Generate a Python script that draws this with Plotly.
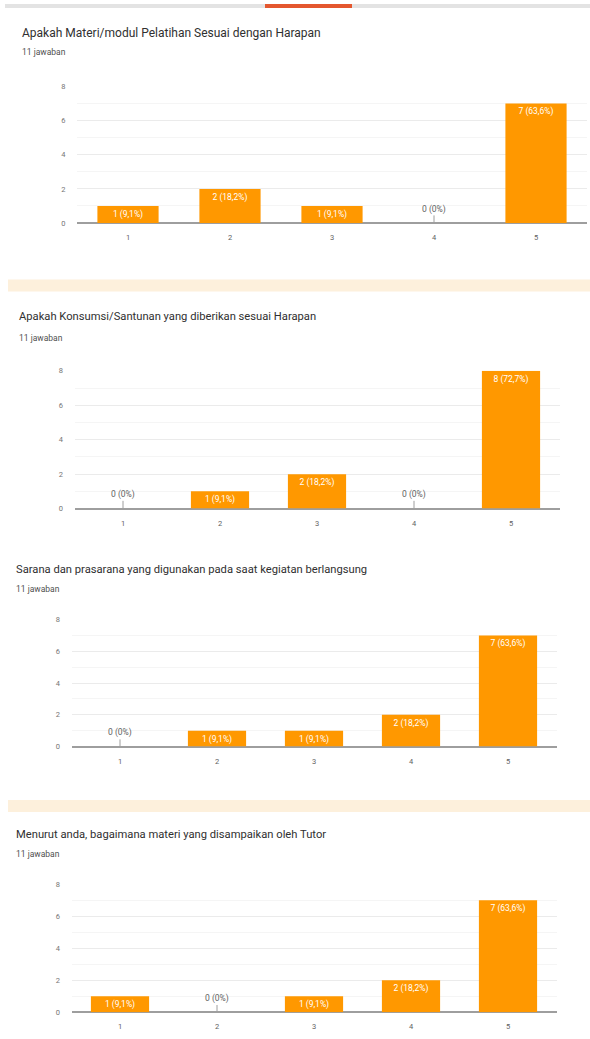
import plotly.graph_objects as go

# ---------------- data ----------------
categories = ["1", "2", "3", "4", "5"]
respondents = 11

titles = [
    "Apakah Materi/modul Pelatihan Sesuai dengan Harapan",
    "Apakah Konsumsi/Santunan yang diberikan sesuai Harapan",
    "Sarana dan prasarana yang digunakan pada saat kegiatan berlangsung",
    "Menurut anda, bagaimana materi yang disampaikan oleh Tutor",
]
subtitle = "11 jawaban"

materi = [1, 2, 1, 0, 7]
konsumsi = [0, 1, 2, 0, 8]
sarana = [0, 1, 1, 2, 7]
tutor = [1, 0, 1, 2, 7]

series = [materi, konsumsi, sarana, tutor]
y_ticks = [0, 2, 4, 6, 8]

# ---------------- layout constants (pixels) ----------------
W, H = 590, 1039
ORANGE = "#ff9800"

panels = [
    dict(x0=77, x1=587, ytop=83, ybot=221, ty=29, sy=48, tx=20, fs=12),
    dict(x0=74.5, x1=559.5, ytop=370, ybot=509, ty=315, sy=337, tx=17, fs=11.2),
    dict(x0=71.5, x1=556.5, ytop=621, ybot=749, ty=570, sy=590, tx=14, fs=11.2),
    dict(x0=71.5, x1=556.5, ytop=888, ybot=1017, ty=838, sy=857, tx=14, fs=11.2),
]


def py(p):
    return 1 - p / H


def px(p):
    return p / W


def fmt(v):
    if v == 0:
        return "0 (0%)"
    pct = v / respondents * 100
    return f"{v} ({pct:.1f}%)".replace(".", ",")


fig = go.Figure()
annotations = []
shapes = []

for i, (vals, p) in enumerate(zip(series, panels)):
    n = "" if i == 0 else str(i + 1)
    xa, ya = "x" + n, "y" + n
    texts = [fmt(v) if v > 0 else "" for v in vals]
    stems = [0.45 if v == 0 else 0 for v in vals]
    fig.add_trace(go.Bar(
        x=categories, y=vals, text=texts, textposition="inside",
        insidetextanchor="end", constraintext="none",
        insidetextfont=dict(color="white", size=8.5, family="Roboto"),
        marker=dict(color=ORANGE, line=dict(width=0)),
        width=0.6, cliponaxis=False,
        error_y=dict(type="data", symmetric=False, array=stems,
                     arrayminus=[0] * len(vals), width=0, thickness=1,
                     color="#9e9e9e"),
        xaxis=xa, yaxis=ya, showlegend=False, hoverinfo="skip",
    ))
    # labels for empty categories, sitting above their stem
    for j, v in enumerate(vals):
        if v == 0:
            annotations.append(dict(
                text=fmt(v), x=j, y=v, xref=xa, yref=ya,
                yshift=14, showarrow=False, xanchor="center", yanchor="middle",
                font=dict(size=8.5, color="#616161", family="Roboto"),
            ))
    fig.layout["xaxis" + n] = dict(
        domain=[px(p["x0"]), px(p["x1"])], anchor=ya, type="category",
        showgrid=False, zeroline=False, showline=False,
        ticks="outside", ticklen=7, tickcolor="rgba(0,0,0,0)",
        tickfont=dict(size=7.5, color="#616161", family="Roboto"),
        fixedrange=True,
    )
    fig.layout["yaxis" + n] = dict(
        domain=[py(p["ybot"]), py(p["ytop"])], anchor=xa,
        range=[0, 8], tickvals=y_ticks,
        showgrid=True, gridcolor="#ebebeb", gridwidth=1,
        minor=dict(dtick=1, showgrid=True, gridcolor="#f5f5f5", gridwidth=1),
        zeroline=True, zerolinecolor="#9e9e9e", zerolinewidth=1.5,
        showline=False,
        ticks="outside", ticklen=9, tickcolor="rgba(0,0,0,0)",
        tickfont=dict(size=7.5, color="#757575", family="Roboto"),
        fixedrange=True,
    )
    annotations.append(dict(
        text=titles[i], xref="paper", yref="paper",
        x=px(p["tx"]), y=py(p["ty"]), xanchor="left", yanchor="middle",
        showarrow=False, font=dict(size=p["fs"], color="#303030", family="Roboto"),
    ))
    annotations.append(dict(
        text=subtitle, xref="paper", yref="paper",
        x=px(p["tx"]), y=py(p["sy"]), xanchor="left", yanchor="middle",
        showarrow=False, font=dict(size=8.5, color="#505050", family="Roboto"),
    ))

# top header strip and section separator bands
shapes.append(dict(type="rect", xref="paper", yref="paper", x0=px(5), x1=1,
                   y0=py(4), y1=1, fillcolor="#e3e3e3", line=dict(width=0), layer="below"))
shapes.append(dict(type="rect", xref="paper", yref="paper", x0=px(265), x1=px(352),
                   y0=py(4), y1=1, fillcolor="#e4572e", line=dict(width=0), layer="below"))
for (a, b) in [(278, 290), (803, 815)]:
    shapes.append(dict(type="rect", xref="paper", yref="paper", x0=px(8), x1=1,
                       y0=py(b), y1=py(a), fillcolor="#fdf0dc", line=dict(width=0),
                       layer="below"))

fig.update_layout(
    width=W, height=H, autosize=False,
    margin=dict(l=0, r=0, t=0, b=0),
    paper_bgcolor="white", plot_bgcolor="white",
    bargap=0.4,
    annotations=annotations, shapes=shapes,
    font=dict(family="Roboto"),
)

fig.write_html(
    "out.html",
    config={"displayModeBar": False},
    post_script="document.body.style.margin='0';document.body.style.overflow='hidden';",
)
